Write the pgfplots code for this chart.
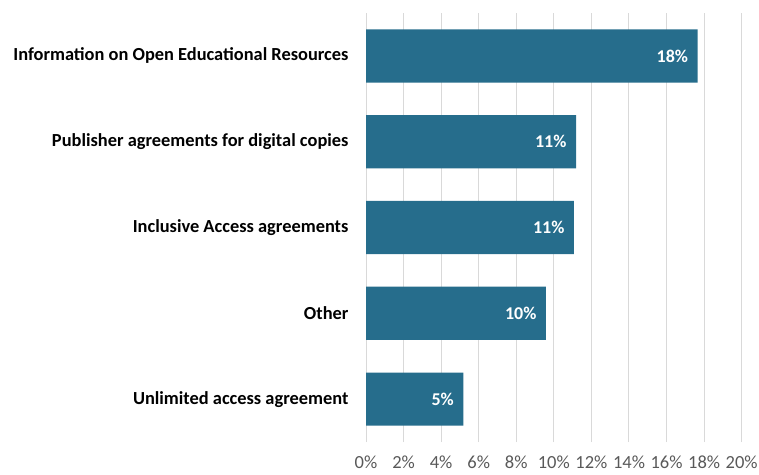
\documentclass[border=0pt]{standalone}
\usepackage{fontspec}
\setmainfont{Carlito}
\usepackage{pgfplots}
\pgfplotsset{compat=1.18}
\definecolor{barc}{HTML}{266D8C}
\definecolor{gridc}{HTML}{D9D9D9}
\definecolor{tickc}{HTML}{595959}
\begin{document}
\begin{tikzpicture}[x=1pt,y=1pt]
\useasboundingbox (0,0) rectangle (759,474);
\begin{axis}[
  at={(366pt,32pt)}, anchor=south west,
  scale only axis, width=375.7pt, height=429pt,
  xbar, bar width=0.62,
  xmin=0, xmax=20, ymin=-0.5, ymax=4.5,
  xtick={0,2,...,20},
  xticklabel={\pgfmathprintnumber{\tick}\%},
  /pgf/number format/assume math mode=true,
  ytick={0,1,2,3,4},
  yticklabels={Unlimited access agreement, Other, Inclusive Access agreements, Publisher agreements for digital copies, Information on Open Educational Resources},
  yticklabel style={font=\fontsize{18.4}{20}\selectfont\bfseries, text=black, xshift=-14pt},
  xticklabel style={font=\fontsize{18.5}{20}\selectfont, text=tickc, yshift=-10pt},
  xmajorgrids, grid style={gridc, line width=1pt},
  axis line style={draw=none},
  major tick length=0pt,
  nodes near coords={\pgfmathprintnumber[fixed,precision=0]{\pgfplotspointmeta}\%},
  nodes near coords style={anchor=east, xshift=-6pt, text=white, font=\fontsize{18}{20}\selectfont\bfseries},
  point meta=x,
]
\addplot[fill=barc, draw=none] coordinates {
 (5.18,0) (9.58,1) (11.07,2) (11.18,3) (17.65,4)
};
\end{axis}
\end{tikzpicture}
\end{document}
